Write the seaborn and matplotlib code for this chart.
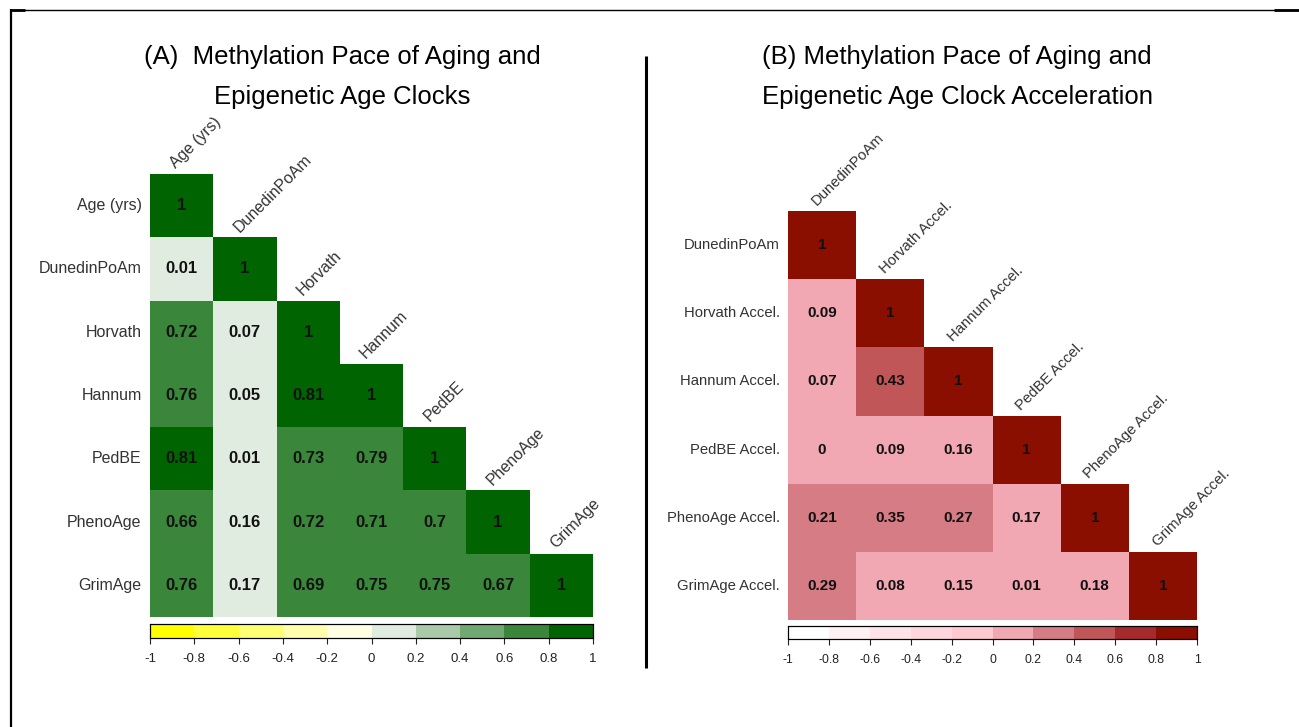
import numpy as np
import pandas as pd
import matplotlib
matplotlib.use("Agg")
import matplotlib.pyplot as plt
from matplotlib.colors import ListedColormap
from matplotlib.lines import Line2D
import seaborn as sns

# ---- data -------------------------------------------------------------
clock_labels = ["Age (yrs)", "DunedinPoAm", "Horvath", "Hannum", "PedBE",
                "PhenoAge", "GrimAge"]
clock_rows = [
    [1],
    [0.01, 1],
    [0.72, 0.07, 1],
    [0.76, 0.05, 0.81, 1],
    [0.81, 0.01, 0.73, 0.79, 1],
    [0.66, 0.16, 0.72, 0.71, 0.7, 1],
    [0.76, 0.17, 0.69, 0.75, 0.75, 0.67, 1],
]

accel_labels = ["DunedinPoAm", "Horvath Accel.", "Hannum Accel.",
                "PedBE Accel.", "PhenoAge Accel.", "GrimAge Accel."]
accel_rows = [
    [1],
    [0.09, 1],
    [0.07, 0.43, 1],
    [0, 0.09, 0.16, 1],
    [0.21, 0.35, 0.27, 0.17, 1],
    [0.29, 0.08, 0.15, 0.01, 0.18, 1],
]

cbar_ticks = [-1, -0.8, -0.6, -0.4, -0.2, 0, 0.2, 0.4, 0.6, 0.8, 1]

green_colors = ["#FFFF00", "#FFFF3A", "#FFFF74", "#FFFFAE", "#FFFFE4",
                "#E1ECE1", "#A9C9A9", "#71A771", "#3A863A", "#006400"]
red_colors = ["#FFFFFF", "#FFF0F3", "#FFE3E8", "#FFD6DD", "#FFC9D2",
              "#F1A8B2", "#D57C85", "#C05658", "#A42A2C", "#8B0F00"]

# ---- style ------------------------------------------------------------
sns.set_theme(style="white")
plt.rcParams["font.family"] = ["Liberation Sans", "DejaVu Sans"]

W, H = 1299, 727
fig = plt.figure(figsize=(W / 100, H / 100), dpi=100)


def px_rect(x0, y0, x1, y1):
    """Axes rectangle from pixel corners (top-left origin)."""
    return [x0 / W, 1 - y1 / H, (x1 - x0) / W, (y1 - y0) / H]


def lower_frame(labels, rows):
    n = len(labels)
    mat = np.full((n, n), np.nan)
    for i, r in enumerate(rows):
        mat[i, :len(r)] = r
    return pd.DataFrame(mat, index=labels, columns=labels)


def fmt(v):
    return "" if np.isnan(v) else f"{v:g}"


def corr_panel(labels, rows, colors, heat_rect, cbar_rect,
               label_size, annot_size, cbar_size):
    df = lower_frame(labels, rows)
    n = len(labels)
    mask = np.triu(np.ones((n, n), dtype=bool), k=1)
    annot = np.vectorize(fmt)(df.values)
    ax = fig.add_axes(px_rect(*heat_rect))
    cax = fig.add_axes(px_rect(*cbar_rect))
    sns.heatmap(df, mask=mask, cmap=ListedColormap(colors), vmin=-1, vmax=1,
                annot=annot, fmt="", linewidths=0,
                annot_kws=dict(fontsize=annot_size, fontweight="bold",
                               color="#111111"),
                cbar_ax=cax, cbar_kws=dict(orientation="horizontal",
                                           ticks=cbar_ticks),
                ax=ax)
    ax.set_xticks([])
    ax.set_xlabel("")
    ax.set_ylabel("")
    ax.tick_params(axis="y", length=0, pad=6, labelsize=label_size,
                   labelcolor="#333333", rotation=0)
    for j, lab in enumerate(labels):
        ax.text(j + 0.45, j - 0.04, lab, rotation=45, rotation_mode="anchor",
                ha="left", va="bottom", fontsize=label_size, color="#333333",
                clip_on=False)
    cax.set_xticklabels([f"{t:g}" for t in cbar_ticks])
    cax.tick_params(axis="x", direction="out", length=4.5, width=0.8,
                    bottom=True, labelsize=cbar_size, pad=6, colors="#222222")
    for s in cax.spines.values():
        s.set_visible(True)
        s.set_linewidth(0.8)
        s.set_edgecolor("black")
    return ax, cax


corr_panel(clock_labels, clock_rows, green_colors,
           (150, 174, 593, 617), (150, 624, 593, 638),
           label_size=11.5, annot_size=12, cbar_size=9.5)
corr_panel(accel_labels, accel_rows, red_colors,
           (788, 211, 1197, 620), (788, 626, 1197, 639),
           label_size=10.7, annot_size=11, cbar_size=8.7)

# ---- titles -----------------------------------------------------------
title_kw = dict(ha="center", va="center", fontsize=18.5, color="black")
fig.text(342 / W, 1 - 57 / H, "(A)  Methylation Pace of Aging and", **title_kw)
fig.text(342 / W, 1 - 97 / H, "Epigenetic Age Clocks", **title_kw)
fig.text(957 / W, 1 - 57 / H, "(B) Methylation Pace of Aging and", **title_kw)
fig.text(957 / W, 1 - 97 / H, "Epigenetic Age Clock Acceleration", **title_kw)

# ---- frame and divider ------------------------------------------------
def fig_line(xs, ys, lw):
    fig.add_artist(Line2D([x / W for x in xs], [1 - y / H for y in ys],
                          color="black", linewidth=lw,
                          transform=fig.transFigure, solid_capstyle="butt"))


fig_line([10, 1299], [9.5, 9.5], 1.0)
fig_line([10, 25], [10, 10], 2.0)
fig_line([1274, 1299], [10, 10], 2.0)
fig_line([11, 11], [9, 727], 1.6)
fig_line([646, 646], [56, 668], 2.2)

fig.savefig("out.png", dpi=100, facecolor="white")
